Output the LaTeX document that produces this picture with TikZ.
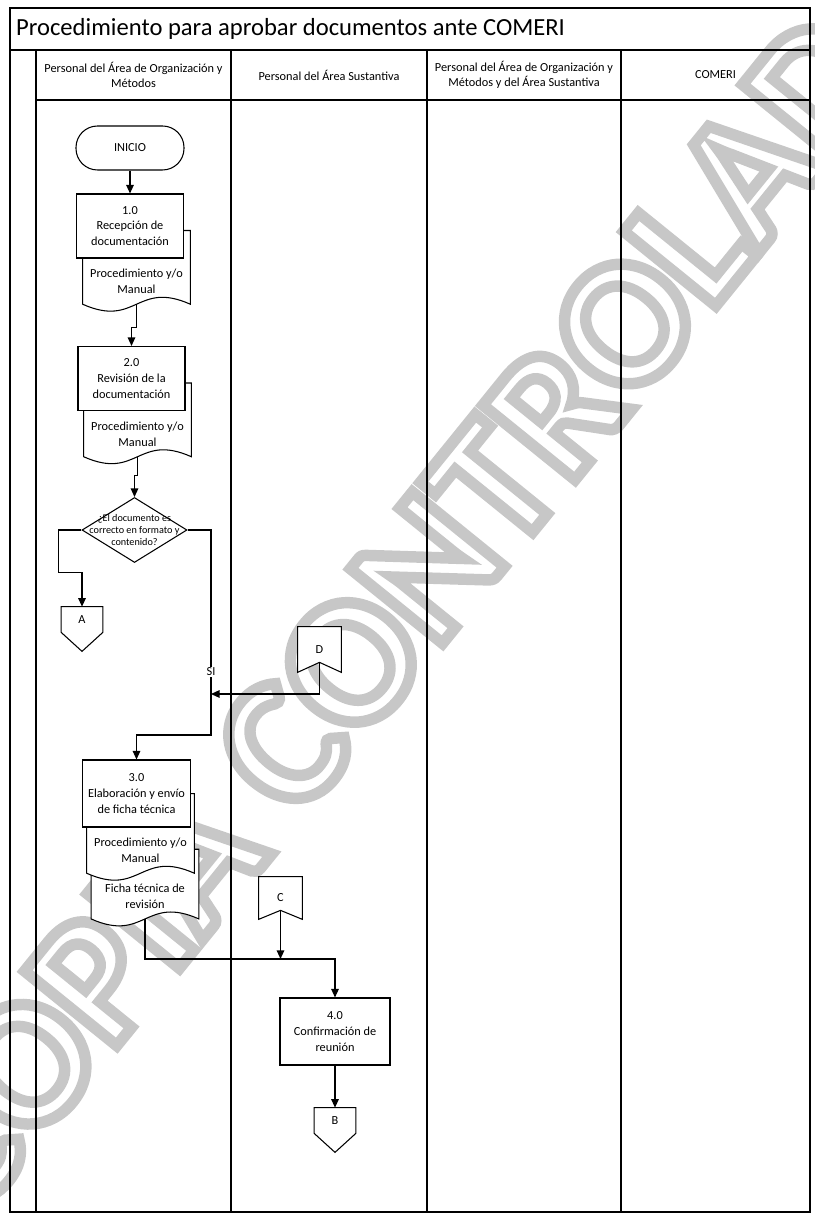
\documentclass[tikz,border=0pt]{standalone}
\usepackage{fontspec}
\setmainfont{Carlito}
\usepackage{tikz}
\usetikzlibrary{shapes.geometric, arrows.meta, positioning, calc}
\pgfdeclarelayer{mark}
\pgfdeclarelayer{back}
\pgfsetlayers{mark,back,main}

\begin{document}
\begin{tikzpicture}[
    x=0.2mm, y=-0.2mm,
    lane/.style    = {line width=0.8pt},
    head/.style    = {font=\fontsize{7}{8.4}\selectfont, align=center},
    term/.style    = {rectangle, draw, fill=white, line width=0.6pt,
                      rounded corners=4.3mm,
                      minimum width=21.6mm, minimum height=8.8mm,
                      font=\fontsize{7}{9}\selectfont},
    proc/.style    = {rectangle, draw, fill=white, line width=0.6pt,
                      minimum width=21.4mm, minimum height=12.8mm,
                      font=\fontsize{7}{9}\selectfont, align=center},
    docu/.style    = {rectangle, inner sep=1pt,
                      minimum width=21.4mm, minimum height=9mm,
                      font=\fontsize{7}{9}\selectfont, align=center},
    docline/.style = {draw, fill=white, line width=0.6pt},
    decis/.style   = {diamond, draw, fill=white, line width=0.6pt,
                      minimum width=21mm, minimum height=13mm, inner sep=0pt},
    dtext/.style   = {font=\fontsize{5.8}{6.6}\selectfont, align=center,
                      inner sep=0pt},
    conn/.style    = {rectangle, inner sep=0pt,
                      minimum width=8.2mm, minimum height=5mm,
                      font=\fontsize{7}{9}\selectfont},
    arr/.style     = {-{Triangle[length=1.7mm, width=1.5mm]}, line width=0.7pt}
]
  \useasboundingbox (0,0) rectangle (814,1216);

  % frame and lanes
  \draw[lane] (10,8) rectangle (810,1212);
  \draw[lane] (10,50) -- (810,50);
  \draw[lane] (36,50) -- (36,1212);
  \draw[lane] (36,100) -- (810,100);
  \draw[lane] (231,50) -- (231,1212);
  \draw[lane] (427,50) -- (427,1212);
  \draw[lane] (621,50) -- (621,1212);

  \node[anchor=west, font=\fontsize{14}{16}\selectfont] (title) at (10,29)
       {Procedimiento para aprobar documentos ante COMERI};
  \node[head] (h1) at (133.5,75) {Personal del Área de Organización y\\Métodos};
  \node[head] (h2) at (329,75)   {Personal del Área Sustantiva};
  \node[head] (h3) at (524,75)   {Personal del Área de Organización y\\Métodos y del Área Sustantiva};
  \node[head] (h4) at (715.5,75) {COMERI};

  % watermark, outlined letters
  \begin{pgfonlayer}{mark}
    \node[rotate=51, text=black!22, font=\fontsize{104}{104}\selectfont\bfseries]
         (wm) at (424,572)
         {\special{pdf:code q 1 Tr 6.5 w}COPIA CONTROLADA\special{pdf:code Q}};
  \end{pgfonlayer}

  % steps
  \node[term] (inicio) at (130,148) {INICIO};
  \node[proc] (p1) at (130,226) {1.0\\Recepción de\\documentación};
  \node[docu, below=0pt of p1, xshift=1.3mm] (d1) {Procedimiento y/o\\Manual};
  \node[proc] (p2) at (131.5,378.5) {2.0\\Revisión de la\\documentación};
  \node[docu, below=0pt of p2, xshift=1.2mm] (d2) {Procedimiento y/o\\Manual};
  \node[decis] (dec) at (134.5,530) {};
  \node[dtext] (dectxt) at (dec.center)
       {¿El documento es\\correcto en formato y\\contenido?};
  \node[conn] (A) at (82,619.5) {A};
  \node[conn, minimum width=8.6mm, minimum height=9mm] (D) at (319.5,649.5) {D};
  \node[proc, minimum height=13.4mm] (p3) at (136.5,793.5)
       {3.0\\Elaboración y envío\\de ficha técnica};
  \node[docu, below=0pt of p3, xshift=0.8mm] (d3) {Procedimiento y/o\\Manual};
  \node[docu, below=0pt of d3, xshift=0.9mm] (d4) {Ficha técnica de\\revisión};
  \node[conn, minimum width=8.6mm, minimum height=8.4mm] (C) at (280.5,898) {C};
  \node[proc, minimum width=22mm, minimum height=13.4mm] (p4) at (335,1031.5)
       {4.0\\Confirmación de\\reunión};
  \node[conn] (B) at (335,1120.5) {B};

  % outlines behind the boxes
  \begin{pgfonlayer}{back}
    \draw[docline] ($(d1.north west)+(0,5.6mm)$) -- ($(d1.north east)+(0,5.6mm)$)
      -- (d1.south east) .. controls ($(d1.south)+(0,4.8mm)$) and ($(d1.south)+(0,-4.8mm)$)
      .. (d1.south west) -- cycle;
    \draw[docline] ($(d2.north west)+(0,5.6mm)$) -- ($(d2.north east)+(0,5.6mm)$)
      -- (d2.south east) .. controls ($(d2.south)+(0,4.8mm)$) and ($(d2.south)+(0,-4.8mm)$)
      .. (d2.south west) -- cycle;
    \draw[docline] ($(d4.north west)+(0,4.8mm)$) -- ($(d4.north east)+(0,4.8mm)$)
      -- (d4.south east) .. controls ($(d4.south)+(0,4.8mm)$) and ($(d4.south)+(0,-4.8mm)$)
      .. (d4.south west) -- cycle;
    \draw[docline] ($(d3.north west)+(0,6.8mm)$) -- ($(d3.north east)+(0,6.8mm)$)
      -- (d3.south east) .. controls ($(d3.south)+(0,4.8mm)$) and ($(d3.south)+(0,-4.8mm)$)
      .. (d3.south west) -- cycle;
    \draw[docline] (A.north west) -- (A.north east) -- (A.south east)
      -- ($(A.south)+(0,-3.8mm)$) -- (A.south west) -- cycle;
    \draw[docline] (B.north west) -- (B.north east) -- (B.south east)
      -- ($(B.south)+(0,-3.8mm)$) -- (B.south west) -- cycle;
    \draw[docline] (D.north west) -- (D.north east) -- (D.south east)
      -- ($(D.south)+(0,2mm)$) -- (D.south west) -- cycle;
    \draw[docline] (C.north west) -- (C.north east) -- (C.south east)
      -- ($(C.south)+(0,1.8mm)$) -- (C.south west) -- cycle;
  \end{pgfonlayer}

  % flow
  \draw[arr] (inicio) -- (p1);
  \draw[arr] (d1.south) -- ++(0,-4.6mm) -| (p2.north);
  \draw[arr] (d2.south) -- ++(0,-3.8mm) -| (dec.north);
  \draw[arr] (dec.west) -- ++(-4.6mm,0) |- ($(A.north)+(0,6.8mm)$) -- (A.north);

  \coordinate (sibend) at (211,735);
  \coordinate (join)   at (211,694);
  \draw[arr] (dec.east) -| (sibend) -| (p3.north);
  \node[fill=white, inner sep=0.6pt, font=\fontsize{7}{8}\selectfont] (si) at (211,672) {SI};
  \draw[arr] ($(D.south)+(0,2mm)$) |- (join);

  \draw[arr] (d4.south) -- ++(0,-8mm) coordinate (fbend) -| (p4.north);
  \draw[arr] ($(C.south)+(0,1.8mm)$) -- (C.south |- fbend);
  \draw[arr] (p4) -- (B);
\end{tikzpicture}
\end{document}
